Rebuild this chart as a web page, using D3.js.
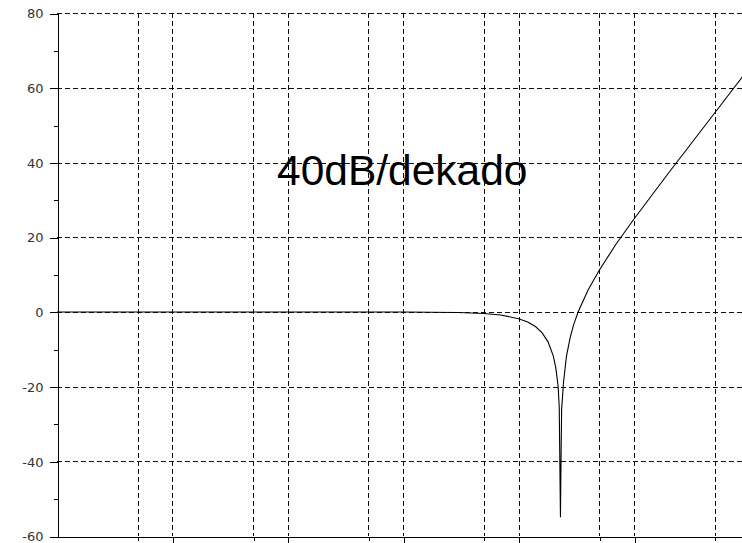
<!DOCTYPE html>
<html>
<head>
<meta charset="utf-8">
<script src="https://cdn.jsdelivr.net/npm/d3@7"></script>
<style>
  html, body { margin: 0; padding: 0; background: #fff; }
  svg { display: block; }
  .tick text { font-family: "DejaVu Sans", sans-serif; font-size: 13px; fill: #333; }
</style>
</head>
<body>
<svg id="chart" width="742" height="543"></svg>
<script>
// Bode magnitude of a notch-type response (freq in Hz, gain in dB)
const freqs = [0.1, 1, 10, 100, 300, 500, 700, 1000, 1200, 1400, 1600, 1800, 2000, 2100, 2200, 2250,
  2305, 2325, 2360, 2400, 2450, 2600, 2800, 3000, 3300, 4000, 5000, 7000, 10000, 20000, 50000, 100000];
const gainDb = [0, 0, 0, 0, -0.15, -0.4, -0.8, -1.8, -2.7, -3.9, -5.6, -8, -11.8, -14.9, -19.9, -25.5,
  -55, -43, -26, -23, -18.8, -11.8, -6.8, -3.4, 0.2, 5.9, 11.2, 18.2, 24.9, 37.3, 53.3, 65.4];

const yMajor = [-60, -40, -20, 0, 20, 40, 60, 80];
const yMinor = [-50, -30, -10, 10, 30, 50, 70];
const xMajor = [1, 10, 100, 1000, 10000];
const xMinor = [0.5, 5, 50, 500, 5000, 50000];
const annotation = "40dB/dekado";

const svg = d3.select("#chart");
const plotLeft = 57, plotTop = 13.3, plotBottom = 536;

const x = d3.scaleLog().domain([0.1, 100000]).range([plotLeft, plotLeft + 6 * 115.4]);
const y = d3.scaleLinear().domain([-60, 80]).range([plotBottom, plotTop]);

// grid
const grid = svg.append("g")
  .attr("stroke", "#111")
  .attr("stroke-width", 1)
  .attr("stroke-dasharray", "5,3")
  .attr("shape-rendering", "crispEdges");

grid.selectAll("line.h")
  .data(yMajor.filter(d => d > -60))
  .enter().append("line")
  .attr("x1", plotLeft).attr("x2", 742)
  .attr("y1", d => Math.round(y(d)) + 0.5)
  .attr("y2", d => Math.round(y(d)) + 0.5);

grid.selectAll("line.v")
  .data(xMinor.concat(xMajor))
  .enter().append("line")
  .attr("x1", d => Math.round(x(d)) + 0.5)
  .attr("x2", d => Math.round(x(d)) + 0.5)
  .attr("y1", plotTop).attr("y2", plotBottom);

// axes
svg.append("g")
  .attr("transform", `translate(${plotLeft + 0.5},0.5)`)
  .call(d3.axisLeft(y).tickValues(yMajor).tickSize(8).tickSizeOuter(0).tickPadding(6)
    .tickFormat(d => String(d)));
svg.append("g")
  .attr("transform", `translate(${plotLeft + 0.5},0.5)`)
  .call(d3.axisLeft(y).tickValues(yMinor).tickSize(4).tickSizeOuter(0).tickFormat(""));

svg.append("g")
  .attr("transform", `translate(0.5,${plotBottom + 0.5})`)
  .call(d3.axisBottom(x).tickValues(xMajor).tickSize(8).tickSizeOuter(0).tickFormat(""));
svg.append("g")
  .attr("transform", `translate(0.5,${plotBottom + 0.5})`)
  .call(d3.axisBottom(x).tickValues(xMinor).tickSize(4).tickSizeOuter(0).tickFormat(""));

svg.selectAll(".domain, .tick line").attr("stroke", "#000").attr("shape-rendering", "crispEdges");

// curve
const line = d3.line()
  .x((d, i) => x(freqs[i]))
  .y(d => y(d));

svg.append("path")
  .datum(gainDb)
  .attr("fill", "none")
  .attr("stroke", "#000")
  .attr("stroke-width", 1.1)
  .attr("d", line);

// annotation
svg.append("text")
  .attr("x", 277)
  .attr("y", 185)
  .attr("font-family", "Liberation Sans, Arial, sans-serif")
  .attr("font-size", 42.5)
  .attr("fill", "#000")
  .text(annotation);
</script>
</body>
</html>
